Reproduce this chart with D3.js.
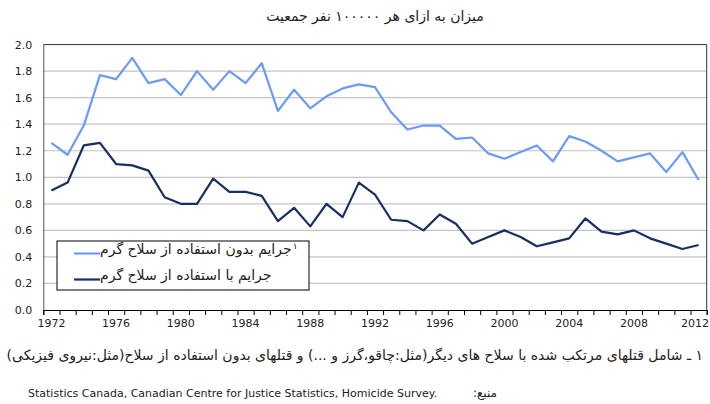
<!DOCTYPE html>
<html>
<head>
<meta charset="utf-8">
<script src="https://cdn.jsdelivr.net/npm/d3@7"></script>
<style>
  body { margin: 0; background: #fff; }
  svg { display: block; font-family: "DejaVu Sans", sans-serif; }
</style>
</head>
<body>
<svg id="chart" width="710" height="404"></svg>
<script>
// Data
//---------
var years = d3.range(1972, 2013);
var yTicks = [0, 0.2, 0.4, 0.6, 0.8, 1.0, 1.2, 1.4, 1.6, 1.8, 2.0];
var xLabels = [1972, 1976, 1980, 1984, 1988, 1992, 1996, 2000, 2004, 2008, 2012];

// without firearm (light)
var noFirearm = [1.26, 1.17, 1.39, 1.77, 1.74, 1.90, 1.71, 1.74, 1.62, 1.80,
                 1.66, 1.80, 1.71, 1.86, 1.50, 1.66, 1.52, 1.61, 1.67, 1.70,
                 1.68, 1.49, 1.36, 1.39, 1.39, 1.29, 1.30, 1.18, 1.14, 1.19,
                 1.24, 1.12, 1.31, 1.27, 1.20, 1.12, 1.15, 1.18, 1.04, 1.19, 0.98];
// with firearm (dark)
var firearm = [0.90, 0.96, 1.24, 1.26, 1.10, 1.09, 1.05, 0.85, 0.80, 0.80,
               0.99, 0.89, 0.89, 0.86, 0.67, 0.77, 0.63, 0.80, 0.70, 0.96,
               0.87, 0.68, 0.67, 0.60, 0.72, 0.65, 0.50, 0.55, 0.60, 0.55,
               0.48, 0.51, 0.54, 0.69, 0.59, 0.57, 0.60, 0.54, 0.50, 0.46, 0.49];

var titleText = "میزان به ازای هر ١٠٠٠٠٠ نفر جمعیت";
var legendNames = ["جرایم بدون استفاده از سلاح گرم", "جرایم با استفاده از سلاح گرم"];
var footnote = "١ ـ شامل قتلهای مرتکب شده با سلاح های دیگر(مثل:چاقو،گرز و ...) و قتلهای بدون استفاده از سلاح(مثل:نیروی فیزیکی)";
var sourceLabel = "منبع:";
var sourceText = "Statistics Canada, Canadian Centre for Justice Statistics, Homicide Survey.";

// Setup
//---------
var plotLeft = 43.3, plotRight = 706.7, plotTop = 44.6, plotBottom = 310;
var lightColor = "#6b9bf7";
var darkColor = "#172f62";

var svg = d3.select("#chart");

var x = d3.scaleBand().domain(years).range([plotLeft, plotRight]).padding(0);
var xEdge = d3.scaleLinear().domain([1972, 2013]).range([plotLeft, plotRight]);
var y = d3.scaleLinear().domain([0, 2]).range([plotBottom, plotTop]);

//-- Gridlines
svg.append("g").selectAll("line")
  .data(yTicks.filter(function(d) { return d > 0 && d < 2; }))
  .join("line")
  .attr("x1", plotLeft).attr("x2", plotRight)
  .attr("y1", function(d) { return y(d); })
  .attr("y2", function(d) { return y(d); })
  .attr("stroke", "#c4c4c4")
  .attr("stroke-width", 1.2);

//-- Plot border (top / right)
svg.append("path")
  .attr("d", "M" + plotLeft + "," + plotTop + "H" + plotRight + "V" + plotBottom)
  .attr("fill", "none")
  .attr("stroke", "#333")
  .attr("stroke-width", 1);

//-- Y axis
var yAxis = svg.append("g")
  .attr("transform", "translate(" + plotLeft + ",0)")
  .call(d3.axisLeft(y).tickValues(yTicks).tickSize(0).tickPadding(11).tickFormat(d3.format(".1f")));
yAxis.select(".domain").attr("stroke", "#555");
yAxis.selectAll("text").attr("font-size", 11).attr("fill", "#222").attr("font-family", "DejaVu Sans");

//-- X axis ticks (category edges)
var xTickAxis = svg.append("g")
  .attr("transform", "translate(0," + plotBottom + ")")
  .call(d3.axisBottom(xEdge).tickValues(d3.range(1972, 2014)).tickSize(5).tickFormat(""));
xTickAxis.select(".domain").attr("stroke", "#000");
xTickAxis.selectAll("line").attr("stroke", "#000");

//-- X labels (category centers)
var xLabelAxis = svg.append("g")
  .attr("transform", "translate(0," + plotBottom + ")")
  .call(d3.axisBottom(x).tickValues(xLabels).tickSize(0).tickPadding(9));
xLabelAxis.select(".domain").remove();
xLabelAxis.selectAll("text").attr("font-size", 11).attr("fill", "#222").attr("font-family", "DejaVu Sans");

//-- last label pulled in so it stays inside the page
xLabelAxis.selectAll("text")
  .filter(function(d) { return d == 2012; })
  .attr("text-anchor", "end")
  .attr("x", 709 - (x(2012) + x.bandwidth() / 2));

// Lines
//---------
var line = d3.line()
  .x(function(d, i) { return x(years[i]) + x.bandwidth() / 2; })
  .y(function(d) { return y(d); });

svg.append("path").datum(noFirearm)
  .attr("d", line).attr("fill", "none")
  .attr("stroke", lightColor).attr("stroke-width", 2.2)
  .attr("stroke-linejoin", "round");

svg.append("path").datum(firearm)
  .attr("d", line).attr("fill", "none")
  .attr("stroke", darkColor).attr("stroke-width", 2.2)
  .attr("stroke-linejoin", "round");

// Title
//---------
svg.append("text")
  .attr("x", 375).attr("y", 21)
  .attr("text-anchor", "middle")
  .attr("font-size", 14).attr("fill", "#222")
  .text(titleText);

// Legend
//---------
var legend = svg.append("g");
legend.append("rect")
  .attr("x", 57).attr("y", 241).attr("width", 252).attr("height", 49)
  .attr("fill", "#fff").attr("stroke", "#000").attr("stroke-width", 1);

var legendColors = [lightColor, darkColor];
var legendY = [253.5, 279.5];
legendNames.forEach(function(name, i) {
  legend.append("line")
    .attr("x1", 74).attr("x2", 100)
    .attr("y1", legendY[i]).attr("y2", legendY[i])
    .attr("stroke", legendColors[i]).attr("stroke-width", 2.2);
  var t = legend.append("text")
    .attr("x", 100).attr("y", legendY[i])
    .attr("direction", "rtl")
    .attr("text-anchor", "end")
    .attr("font-size", 14).attr("fill", "#222")
    .text(name);
  //-- footnote marker on first entry
  if (i == 0) {
    var bb = t.node().getBBox();
    legend.append("text")
      .attr("x", bb.x + bb.width + 1).attr("y", legendY[i] - 5)
      .attr("font-size", 9).attr("fill", "#222")
      .text("١");
  }
});

// Notes
//---------
svg.append("text")
  .attr("x", 703).attr("y", 360)
  .attr("direction", "rtl")
  .attr("text-anchor", "start")
  .attr("font-size", 14).attr("fill", "#222")
  .text(footnote);

svg.append("text")
  .attr("x", 497).attr("y", 397)
  .attr("direction", "rtl")
  .attr("text-anchor", "start")
  .attr("font-size", 12).attr("fill", "#222")
  .text(sourceLabel);

svg.append("text")
  .attr("x", 28).attr("y", 397)
  .attr("font-size", 11).attr("fill", "#222")
  .text(sourceText);
</script>
</body>
</html>
